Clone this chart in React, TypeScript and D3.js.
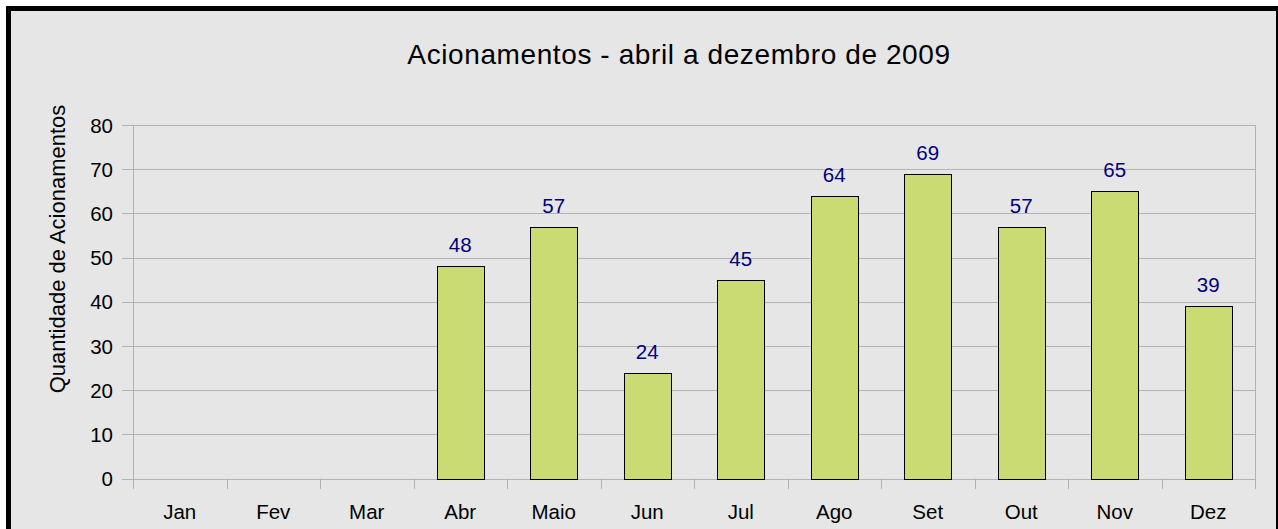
import React from "react";
import * as d3 from "d3";

const months = ["Jan", "Fev", "Mar", "Abr", "Maio", "Jun", "Jul", "Ago", "Set", "Out", "Nov", "Dez"];
const values: (number | null)[] = [null, null, null, 48, 57, 24, 45, 64, 69, 57, 65, 39];
const yTicks = [0, 10, 20, 30, 40, 50, 60, 70, 80];
const title = "Acionamentos - abril a dezembro de 2009";
const yTitle = "Quantidade de Acionamentos";

const W = 1278;
const H = 529;
const left = 133;
const right = 1255;
const top = 125;
const bottom = 478.7;

export default function App() {
  const x = d3.scaleBand<string>().domain(months).range([left, right]).paddingInner(0).paddingOuter(0);
  const y = d3.scaleLinear().domain([0, 80]).range([bottom, top]);
  const bw = x.bandwidth();
  const barW = bw * 0.5;
  const font = "Liberation Sans, Arial, sans-serif";
  const grid = "#b3b3b3";

  return (
    <svg width={W} height={H} style={{ position: "absolute", left: 0, top: 0 }} fontFamily={font}>
      <rect x={0} y={0} width={W} height={H} fill="#ffffff" />
      <rect x={8.5} y={8.5} width={1270} height={540} fill="#e6e6e6" stroke="#000" strokeWidth={5} />
      <text x={679} y={63.5} textAnchor="middle" fontSize={28} letterSpacing={0.6} fill="#000">{title}</text>
      {yTicks.map((t) => (
        <g key={t}>
          <line x1={122} x2={right} y1={Math.round(y(t)) + 0.5} y2={Math.round(y(t)) + 0.5} stroke={grid} strokeWidth={1} />
          <text x={113} y={y(t) + 7.5} textAnchor="end" fontSize={20.5} fill="#000">{t}</text>
        </g>
      ))}
      <line x1={left + 0.5} x2={left + 0.5} y1={top} y2={489} stroke={grid} />
      <line x1={right + 0.5} x2={right + 0.5} y1={top} y2={489} stroke={grid} />
      {months.map((m) => (
        <line key={"t" + m} x1={Math.round(x(m)!) + 0.5} x2={Math.round(x(m)!) + 0.5} y1={bottom} y2={489} stroke={grid} />
      ))}
      {months.map((m, i) => {
        const v = values[i];
        if (v == null) return null;
        const cx = x(m)! + bw / 2;
        return (
          <g key={"b" + m}>
            <rect x={Math.round(cx - barW / 2) + 0.5} y={Math.round(y(v)) + 0.5} width={Math.round(barW)} height={Math.round(y(0)) - Math.round(y(v))} fill="#cbdb74" stroke="#000" strokeWidth={1} />
            <text x={cx} y={y(v) - 14} textAnchor="middle" fontSize={20.5} fill="#000080">{v}</text>
          </g>
        );
      })}
      {months.map((m) => (
        <text key={"l" + m} x={x(m)! + bw / 2} y={519} textAnchor="middle" fontSize={20.5} fill="#000">{m}</text>
      ))}
      <text transform={`translate(65,249) rotate(-90)`} textAnchor="middle" fontSize={22} fill="#000">{yTitle}</text>
    </svg>
  );
}
